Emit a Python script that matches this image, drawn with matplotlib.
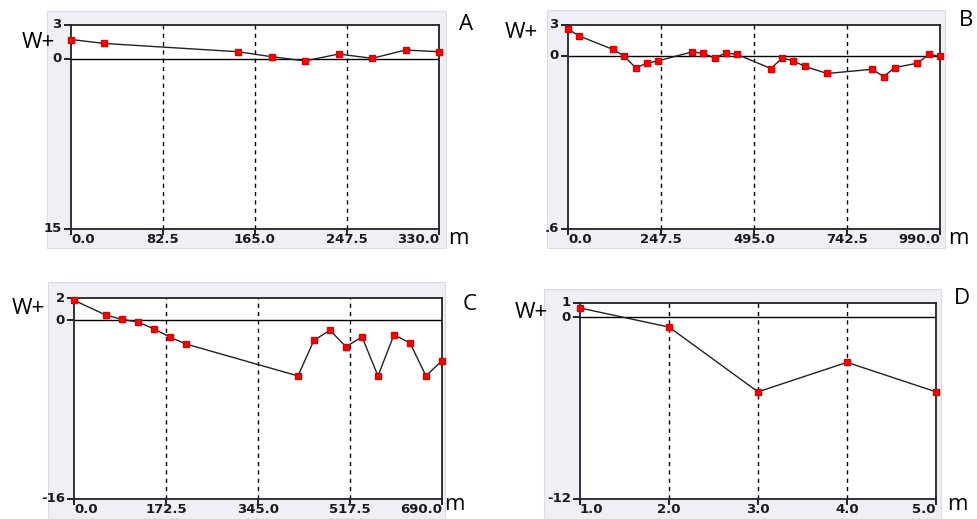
import matplotlib.pyplot as plt
from matplotlib.patches import Rectangle

# Panel A
a_x = [0, 30, 150, 180, 210, 240, 270, 300, 330]
a_y = [1.72, 1.37, 0.64, 0.2, -0.17, 0.44, 0.06, 0.79, 0.64]
a_xticks = [0.0, 82.5, 165.0, 247.5, 330.0]
a_ylim = (-15, 3)
a_ylabels = ["3", "0", "15"]

# Panel B
b_x = [0, 30, 120, 150, 180, 210, 240, 330, 360, 390, 420, 450,
       540, 570, 600, 630, 690, 810, 840, 870, 930, 960, 990]
b_y = [2.48, 1.83, 0.59, -0.03, -1.11, -0.68, -0.46, 0.36, 0.23, -0.2, 0.26, 0.13,
       -1.17, -0.2, -0.46, -0.98, -1.63, -1.24, -1.92, -1.08, -0.68, 0.13, -0.03]
b_xticks = [0.0, 247.5, 495.0, 742.5, 990.0]
b_ylim = (-16, 2.85)
b_ylabels = ["3", "0", ".6"]

# Panel C
c_x = [0, 60, 90, 120, 150, 180, 210, 420, 450, 480, 510, 540, 570, 600, 630, 660, 690]
c_y = [1.8, 0.46, 0.09, -0.15, -0.77, -1.51, -2.12, -4.98, -1.78, -0.89, -2.37, -1.48,
       -4.98, -1.29, -2.03, -4.98, -3.6]
c_xticks = [0.0, 172.5, 345.0, 517.5, 690.0]
c_ylim = (-16, 2)
c_ylabels = ["2", "0", "-16"]

# Panel D
d_x = [1.0, 2.0, 3.0, 4.0, 5.0]
d_y = [0.62, -0.64, -4.92, -2.97, -4.92]
d_xticks = [1.0, 2.0, 3.0, 4.0, 5.0]
d_ylim = (-12, 0.95)
d_ylabels = ["1", "0", "-12"]

W, H = 978, 519
fig = plt.figure(figsize=(W / 100, H / 100), dpi=100)
fig.patch.set_facecolor("white")

tick_font = dict(fontsize=9.5, fontweight="bold", family="DejaVu Sans", color="#1a1a1a")
big_font = dict(fontsize=16, family="Open Sans", color="black")


def px_box(l, r, t, b):
    return [l / W, 1 - b / H, (r - l) / W, (b - t) / H]


def panel(box, bg, xs, ys, xticks, ylim, ylabels, letter, wpos, lpos, mpos):
    # light gray panel background, kept behind the axes
    gl, gr, gt, gb = bg
    fig.patches.append(Rectangle((gl / W, 1 - gb / H), (gr - gl) / W, (gb - gt) / H,
                                 transform=fig.transFigure, facecolor="#eef0f5",
                                 edgecolor="#dcdcdc", lw=0.8, zorder=-5))
    ax = fig.add_axes(px_box(*box))
    ax.set_facecolor("white")
    ax.set_xlim(xticks[0], xticks[-1])
    ax.set_ylim(*ylim)
    for sp in ax.spines.values():
        sp.set_linewidth(1.3)
        sp.set_color("#222222")

    # dashed verticals at inner ticks, solid zero line
    for xt in xticks[1:-1]:
        ax.axvline(xt, color="black", lw=1.0, ls=(0, (3, 3)), zorder=1)
    ax.axhline(0, color="black", lw=1.0, zorder=1)

    ax.plot(xs, ys, color="#222222", lw=1.0, zorder=2)
    ax.plot(xs, ys, ls="none", marker="s", ms=4, color="#ff0000", mec="#dd0000",
            zorder=3, clip_on=False)

    ax.set_xticks(xticks)
    ax.set_xticklabels([])
    ax.set_yticks([ylim[1], 0, ylim[0]])
    ax.set_yticklabels([])
    ax.tick_params(axis="x", direction="out", length=4, width=1.2, colors="black")
    ax.tick_params(axis="y", direction="out", length=5, width=1.2, colors="black")

    # tick labels: first left aligned, last right aligned
    for i, xt in enumerate(xticks):
        ha = "left" if i == 0 else ("right" if i == len(xticks) - 1 else "center")
        ax.text(xt, -0.02, f"{xt:.1f}", transform=ax.get_xaxis_transform(),
                ha=ha, va="top", **tick_font)
    for yv, lab in zip([ylim[1], 0, ylim[0]], ylabels):
        ax.text(-0.025, yv, lab, transform=ax.get_yaxis_transform(),
                ha="right", va="center", **tick_font)

    fig.text(wpos[0] / W, 1 - wpos[1] / H, "W+", ha="left", va="center", **big_font)
    fig.text(lpos[0] / W, 1 - lpos[1] / H, letter, ha="center", va="center", **big_font)
    fig.text(mpos[0] / W, 1 - mpos[1] / H, "m", ha="center", va="center", **big_font)
    return ax


panel((71, 439, 25, 229), (47, 446, 11, 248), a_x, a_y, a_xticks, a_ylim, a_ylabels,
      "A", (22, 42), (466, 25), (458, 238))
panel((568, 940, 25, 229), (547, 945, 10, 248), b_x, b_y, b_xticks, b_ylim, b_ylabels,
      "B", (505, 32), (966, 20), (958, 238))
panel((74, 442, 298, 499), (48, 445, 282, 519), c_x, c_y, c_xticks, c_ylim, c_ylabels,
      "C", (12, 308), (470, 304), (454, 505))
panel((580, 936, 303, 499), (544, 941, 289, 519), d_x, d_y, d_xticks, d_ylim, d_ylabels,
      "D", (515, 313), (962, 299), (957, 505))

fig.savefig("out.png", dpi=100)
